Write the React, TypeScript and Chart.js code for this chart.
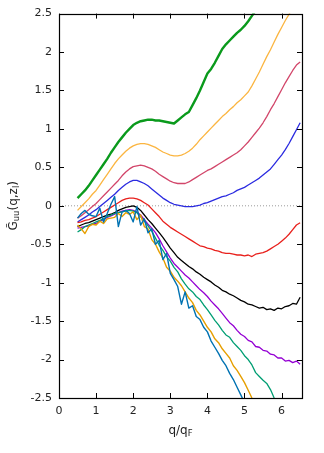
import React, { useEffect, useRef } from "react";
import { Chart, registerables } from "chart.js";

Chart.register(...registerables);

// q/q_F sample positions (0.5 .. 6.5 step 0.1)
const qValues = [
  0.5, 0.6, 0.7, 0.8, 0.9, 1.0, 1.1, 1.2, 1.3, 1.4,
  1.5, 1.6, 1.7, 1.8, 1.9, 2.0, 2.1, 2.2, 2.3, 2.4,
  2.5, 2.6, 2.7, 2.8, 2.9, 3.0, 3.1, 3.2, 3.3, 3.4,
  3.5, 3.6, 3.7, 3.8, 3.9, 4.0, 4.1, 4.2, 4.3, 4.4,
  4.5, 4.6, 4.7, 4.8, 4.9, 5.0, 5.1, 5.2, 5.3, 5.4,
  5.5, 5.6, 5.7, 5.8, 5.9, 6.0, 6.1, 6.2, 6.3, 6.4,
  6.5,
];

const greenSeries = [
  0.10, 0.15, 0.20, 0.26, 0.33, 0.40, 0.47, 0.54, 0.61, 0.69,
  0.76, 0.83, 0.89, 0.95, 1.00, 1.05, 1.08, 1.10, 1.11, 1.12,
  1.12, 1.11, 1.11, 1.10, 1.09, 1.08, 1.07, 1.11, 1.15, 1.19,
  1.22, 1.31, 1.40, 1.50, 1.61, 1.72, 1.78, 1.86, 1.95, 2.04,
  2.10, 2.15, 2.20, 2.25, 2.29, 2.34, 2.40, 2.47, 2.54, 2.60,
];

const yellowSeries = [
  -0.06, -0.01, 0.04, 0.09, 0.15, 0.20, 0.27, 0.34, 0.41, 0.48,
  0.55, 0.61, 0.66, 0.71, 0.75, 0.78, 0.80, 0.81, 0.81, 0.80,
  0.78, 0.76, 0.73, 0.70, 0.68, 0.66, 0.65, 0.65, 0.66, 0.68,
  0.71, 0.75, 0.80, 0.86, 0.91, 0.96, 1.01, 1.06, 1.11, 1.16,
  1.20, 1.25, 1.29, 1.34, 1.38, 1.43, 1.48, 1.56, 1.65, 1.74,
  1.84, 1.94, 2.03, 2.13, 2.23, 2.32, 2.41, 2.49, 2.58,
];

const pinkSeries = [
  -0.16, -0.13, -0.09, -0.05, -0.01, 0.03, 0.08, 0.13, 0.18, 0.23,
  0.28, 0.33, 0.39, 0.44, 0.48, 0.51, 0.52, 0.53, 0.52, 0.50,
  0.48, 0.45, 0.41, 0.38, 0.35, 0.32, 0.30, 0.29, 0.29, 0.29,
  0.31, 0.34, 0.37, 0.40, 0.43, 0.46, 0.48, 0.51, 0.54, 0.57,
  0.60, 0.63, 0.66, 0.69, 0.73, 0.78, 0.83, 0.89, 0.95, 1.01,
  1.08, 1.16, 1.25, 1.33, 1.42, 1.51, 1.60, 1.68, 1.76, 1.83,
  1.87,
];

const blueSeries = [
  -0.21, -0.18, -0.15, -0.12, -0.08, -0.05, -0.01, 0.03, 0.07, 0.11,
  0.15, 0.20, 0.24, 0.28, 0.31, 0.33, 0.33, 0.31, 0.29, 0.26,
  0.22, 0.18, 0.14, 0.10, 0.07, 0.04, 0.02, 0.01, 0.00, -0.01,
  -0.01, -0.01, 0.00, 0.01, 0.03, 0.04, 0.06, 0.08, 0.10, 0.12,
  0.13, 0.15, 0.17, 0.20, 0.22, 0.24, 0.27, 0.30, 0.33, 0.36,
  0.40, 0.44, 0.48, 0.54, 0.60, 0.66, 0.73, 0.81, 0.90, 0.99,
  1.08,
];

const redSeries = [
  -0.22, -0.21, -0.19, -0.18, -0.16, -0.14, -0.11, -0.08, -0.05, -0.02,
  0.01, 0.04, 0.07, 0.09, 0.10, 0.10, 0.09, 0.07, 0.04, 0.01,
  -0.04, -0.09, -0.14, -0.20, -0.24, -0.28, -0.31, -0.34, -0.37, -0.40,
  -0.43, -0.46, -0.49, -0.52, -0.53, -0.55, -0.56, -0.58, -0.59, -0.61,
  -0.62, -0.62, -0.63, -0.64, -0.64, -0.65, -0.64, -0.66, -0.63, -0.62,
  -0.61, -0.59, -0.56, -0.53, -0.50, -0.46, -0.42, -0.37, -0.31, -0.25,
  -0.22,
];

const blackSeries = [
  -0.27, -0.25, -0.23, -0.22, -0.20, -0.18, -0.16, -0.14, -0.12, -0.11,
  -0.09, -0.06, -0.04, -0.02, -0.01, 0.00, -0.02, -0.06, -0.12, -0.18,
  -0.23, -0.29, -0.35, -0.41, -0.48, -0.55, -0.61, -0.67, -0.71, -0.75,
  -0.79, -0.82, -0.86, -0.89, -0.93, -0.96, -0.99, -1.03, -1.06, -1.10,
  -1.12, -1.15, -1.17, -1.20, -1.23, -1.25, -1.28, -1.29, -1.31, -1.33,
  -1.32, -1.35, -1.34, -1.36, -1.33, -1.34, -1.31, -1.30, -1.27, -1.28,
  -1.19,
];

const purpleSeries = [
  -0.29, -0.28, -0.27, -0.26, -0.24, -0.23, -0.20, -0.18, -0.15, -0.13,
  -0.11, -0.09, -0.07, -0.06, -0.05, -0.06, -0.08, -0.12, -0.18, -0.24,
  -0.29, -0.35, -0.43, -0.52, -0.60, -0.68, -0.75, -0.80, -0.85, -0.90,
  -0.94, -0.99, -1.04, -1.09, -1.13, -1.18, -1.24, -1.29, -1.34, -1.40,
  -1.46, -1.52, -1.56, -1.62, -1.67, -1.70, -1.75, -1.77, -1.83, -1.84,
  -1.88, -1.89, -1.93, -1.94, -1.98, -1.98, -2.02, -2.01, -2.04, -2.02,
  -2.06,
];

const tealSeries = [
  -0.34, -0.31, -0.27, -0.25, -0.23, -0.21, -0.19, -0.17, -0.14, -0.12,
  -0.10, -0.09, -0.08, -0.07, -0.06, -0.07, -0.09, -0.14, -0.20, -0.26,
  -0.33, -0.42, -0.51, -0.58, -0.66, -0.72, -0.80, -0.86, -0.95, -1.02,
  -1.08, -1.12, -1.18, -1.22, -1.29, -1.35, -1.42, -1.49, -1.55, -1.62,
  -1.68, -1.71, -1.78, -1.83, -1.88, -1.95, -2.00, -2.07, -2.17, -2.22,
  -2.27, -2.31, -2.39, -2.50, -2.58,
];

const orangeSeries = [
  -0.25, -0.30, -0.36, -0.27, -0.24, -0.25, -0.20, -0.23, -0.17, -0.16,
  -0.15, -0.10, -0.14, -0.09, -0.11, -0.08, -0.18, -0.12, -0.27, -0.30,
  -0.44, -0.50, -0.60, -0.68, -0.80, -0.85, -0.93, -0.98, -1.04, -1.12,
  -1.20, -1.26, -1.36, -1.42, -1.50, -1.58, -1.64, -1.73, -1.78, -1.86,
  -1.92, -1.98, -2.08, -2.14, -2.22, -2.30, -2.40, -2.50, -2.58,
];

const skyBlueSeries = [
  -0.16, -0.10, -0.06, -0.11, -0.13, -0.14, -0.03, -0.21, -0.10, 0.02,
  0.12, -0.27, -0.08, -0.06, -0.10, -0.21, -0.01, -0.25, -0.17, -0.35,
  -0.30, -0.50, -0.45, -0.70, -0.62, -0.88, -0.96, -1.05, -1.28, -1.12,
  -1.33, -1.30, -1.44, -1.48, -1.58, -1.64, -1.76, -1.84, -1.92, -2.01,
  -2.08, -2.18, -2.26, -2.36, -2.46, -2.56,
];

const zeroLineX = [0, 6.5];
const zeroLineY = [0, 0];

const xTickValues = [0, 1, 2, 3, 4, 5, 6];
const yTickValues = [-2.5, -2, -1.5, -1, -0.5, 0, 0.5, 1, 1.5, 2, 2.5];

const seriesList = [
  { ys: greenSeries, color: "#0a9a1c", width: 2.4 },
  { ys: yellowSeries, color: "#fbb540", width: 1.3 },
  { ys: pinkSeries, color: "#d2466a", width: 1.3 },
  { ys: blueSeries, color: "#2b2be0", width: 1.3 },
  { ys: redSeries, color: "#e8201c", width: 1.3 },
  { ys: blackSeries, color: "#000000", width: 1.3 },
  { ys: purpleSeries, color: "#9400d3", width: 1.3 },
  { ys: tealSeries, color: "#009e73", width: 1.3 },
  { ys: orangeSeries, color: "#e69f00", width: 1.4 },
  { ys: skyBlueSeries, color: "#0072b2", width: 1.4 },
];

const FONT = "'DejaVu Sans', sans-serif";

function drawRich(ctx: CanvasRenderingContext2D, parts: { t: string; s: number; dy: number }[], cx: number, cy: number) {
  let total = 0;
  for (const p of parts) {
    ctx.font = `${p.s}px ${FONT}`;
    total += ctx.measureText(p.t).width;
  }
  let x = cx - total / 2;
  for (const p of parts) {
    ctx.font = `${p.s}px ${FONT}`;
    ctx.fillText(p.t, x, cy + p.dy);
    x += ctx.measureText(p.t).width;
  }
}

const framePlugin = {
  id: "frame",
  afterDatasetsDraw(chart: any) {
    const { ctx, chartArea, scales } = chart;
    const { left, right, top, bottom } = chartArea;
    ctx.save();
    ctx.strokeStyle = "#000";
    ctx.lineWidth = 1;
    ctx.beginPath();
    for (const v of xTickValues) {
      const px = Math.round(scales.x.getPixelForValue(v)) + 0.5;
      ctx.moveTo(px, bottom);
      ctx.lineTo(px, bottom - 5);
      ctx.moveTo(px, top);
      ctx.lineTo(px, top + 5);
    }
    for (const v of yTickValues) {
      const py = Math.round(scales.y.getPixelForValue(v)) + 0.5;
      ctx.moveTo(left, py);
      ctx.lineTo(left + 5, py);
      ctx.moveTo(right, py);
      ctx.lineTo(right - 5, py);
    }
    ctx.stroke();
    ctx.lineWidth = 1.2;
    ctx.strokeRect(Math.round(left) + 0.5, Math.round(top) + 0.5, Math.round(right - left), Math.round(bottom - top));

    ctx.fillStyle = "#222";
    ctx.textBaseline = "middle";
    ctx.textAlign = "left";
    // x title
    drawRich(
      ctx,
      [
        { t: "q/q", s: 12, dy: 0 },
        { t: "F", s: 8.5, dy: 3 },
      ],
      (left + right) / 2,
      431
    );
    // y title
    ctx.save();
    ctx.translate(14, (top + bottom) / 2);
    ctx.rotate(-Math.PI / 2);
    drawRich(
      ctx,
      [
        { t: "G\u0303", s: 12, dy: 0 },
        { t: "uu", s: 8.5, dy: 3 },
        { t: "(q,z", s: 12, dy: 0 },
        { t: "l", s: 8.5, dy: 3 },
        { t: ")", s: 12, dy: 0 },
      ],
      0,
      0
    );
    ctx.restore();
    ctx.restore();
  },
};

export default function App() {
  const canvasRef = useRef<HTMLCanvasElement | null>(null);

  useEffect(() => {
    if (!canvasRef.current) return;
    const lineSets = seriesList.map((s) => ({
      data: s.ys.map((y, i) => ({ x: qValues[i], y })),
      borderColor: s.color,
      backgroundColor: s.color,
      borderWidth: s.width,
      pointRadius: 0,
      tension: 0,
      fill: false,
      clip: 0,
      borderJoinStyle: "round" as const,
    }));
    const zeroSet = {
      data: zeroLineX.map((x, i) => ({ x, y: zeroLineY[i] })),
      borderColor: "#9a9a9a",
      borderWidth: 1,
      borderDash: [1, 2],
      pointRadius: 0,
      fill: false,
      clip: 0,
    };
    // first dataset is drawn on top in Chart.js, so reverse plotting order
    const datasets = [...lineSets].reverse().concat([zeroSet as any]);

    const chart = new Chart(canvasRef.current, {
      type: "line",
      data: { datasets },
      plugins: [framePlugin],
      options: {
        responsive: false,
        animation: false,
        layout: { padding: { left: 0, top: 13, right: 22, bottom: 0 } },
        plugins: { legend: { display: false }, tooltip: { enabled: false } },
        scales: {
          x: {
            type: "linear",
            min: 0,
            max: 6.55,
            grid: { display: false, drawTicks: false },
            border: { display: false },
            afterBuildTicks: (scale: any) => {
              scale.ticks = xTickValues.map((v) => ({ value: v }));
            },
            afterFit: (scale: any) => {
              scale.height = 55;
            },
            ticks: {
              padding: 7,
              maxRotation: 0,
              color: "#222",
              font: { family: FONT, size: 11 },
              callback: (v: any) => String(v),
            },
          },
          y: {
            type: "linear",
            min: -2.5,
            max: 2.5,
            grid: { display: false, drawTicks: false },
            border: { display: false },
            afterBuildTicks: (scale: any) => {
              scale.ticks = yTickValues.map((v) => ({ value: v }));
            },
            afterFit: (scale: any) => {
              scale.width = 59;
            },
            ticks: {
              padding: 7,
              color: "#222",
              font: { family: FONT, size: 11 },
              callback: (v: any) => String(v),
            },
          },
        },
      },
    });
    return () => chart.destroy();
  }, []);

  return (
    <canvas
      ref={canvasRef}
      width={324}
      height={453}
      style={{ position: "absolute", left: 0, top: 0, display: "block", background: "#fff" }}
    />
  );
}
